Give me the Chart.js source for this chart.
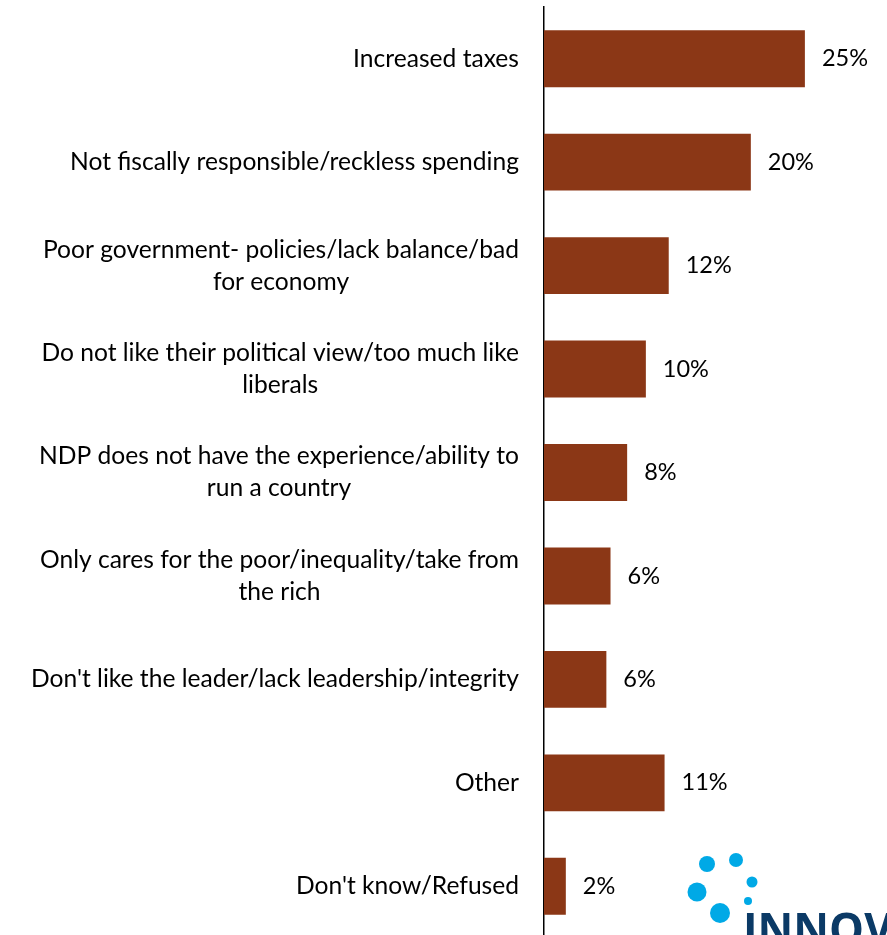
<!DOCTYPE html>
<html><head><meta charset="utf-8">
<script src="https://cdn.jsdelivr.net/npm/chart.js@4"></script>
<style>
html,body{margin:0;padding:0;background:#fff;overflow:hidden;width:887px;height:935px;}
#wrap{position:relative;width:887px;height:942px;}
</style></head>
<body><div id="wrap"><canvas id="c" width="887" height="942"></canvas></div>
<script>
const categories = [
  ["Increased taxes"],
  ["Not fiscally responsible/reckless spending"],
  ["Poor government- policies/lack balance/bad", "for economy"],
  ["Do not like their political view/too much like", "liberals"],
  ["NDP does not have the experience/ability to", "run a country"],
  ["Only cares for the poor/inequality/take from", "the rich"],
  ["Don't like the leader/lack leadership/integrity"],
  ["Other"],
  ["Don't know/Refused"]
];
const values = [25.1, 19.9, 12.0, 9.8, 8.0, 6.4, 6.0, 11.6, 2.1];
const valueLabels = ["25%", "20%", "12%", "10%", "8%", "6%", "6%", "11%", "2%"];

const FONT = "Lato, 'Open Sans', sans-serif";
const labelPlugin = {
  id: 'labels',
  afterDraw(chart) {
    const ctx = chart.ctx;
    const y = chart.scales.y;
    ctx.save();
    ctx.fillStyle = '#000';
    ctx.font = '24.6px ' + FONT;
    ctx.textBaseline = 'middle';
    const rightX = 519, lh = 32;
    categories.forEach((lines, i) => {
      const cy = y.getPixelForTick(i);
      const maxW = Math.max(...lines.map(l => ctx.measureText(l).width));
      const cx = rightX - maxW / 2;
      ctx.textAlign = 'center';
      lines.forEach((l, k) => {
        const ly = cy + (k - (lines.length - 1) / 2) * lh;
        ctx.fillText(l, cx, ly);
      });
    });
    const meta = chart.getDatasetMeta(0);
    ctx.textAlign = 'left';
    ctx.font = '23.5px ' + FONT;
    meta.data.forEach((bar, i) => {
      ctx.fillText(valueLabels[i], bar.x + 17, bar.y);
    });
    // logo
    ctx.fillStyle = '#00A9E6';
    [[707,864,8],[736,860,7],[752,882,5.5],[697,892,9.5],[720,913,10],[748,901,4]].forEach(c => {
      ctx.beginPath(); ctx.arc(c[0], c[1], c[2], 0, Math.PI*2); ctx.fill();
    });
    ctx.fillStyle = '#0B3A66';
    ctx.font = "bold 44px 'Open Sans', sans-serif";
    ctx.textBaseline = 'alphabetic';
    ctx.fillText('INNOV', 743, 945);
    ctx.restore();
  }
};

new Chart(document.getElementById('c'), {
  type: 'bar',
  data: {
    labels: categories,
    datasets: [{
      data: values,
      backgroundColor: '#8B3716',
      borderWidth: 0,
      categoryPercentage: 1.0,
      barPercentage: 0.55
    }]
  },
  options: {
    indexAxis: 'y',
    responsive: false,
    animation: false,
    events: [],
    layout: { padding: { top: 7, bottom: 4, left: 0, right: 0 } },
    plugins: { legend: { display: false }, tooltip: { enabled: false } },
    scales: {
      x: { display: false, min: 0, max: 33 },
      y: {
        grid: { display: false, drawTicks: false },
        border: { display: true, color: '#000', width: 1.5 },
        ticks: { display: false },
        afterFit(scale) { scale.width = 544; }
      }
    }
  },
  plugins: [labelPlugin]
});
</script></body></html>
